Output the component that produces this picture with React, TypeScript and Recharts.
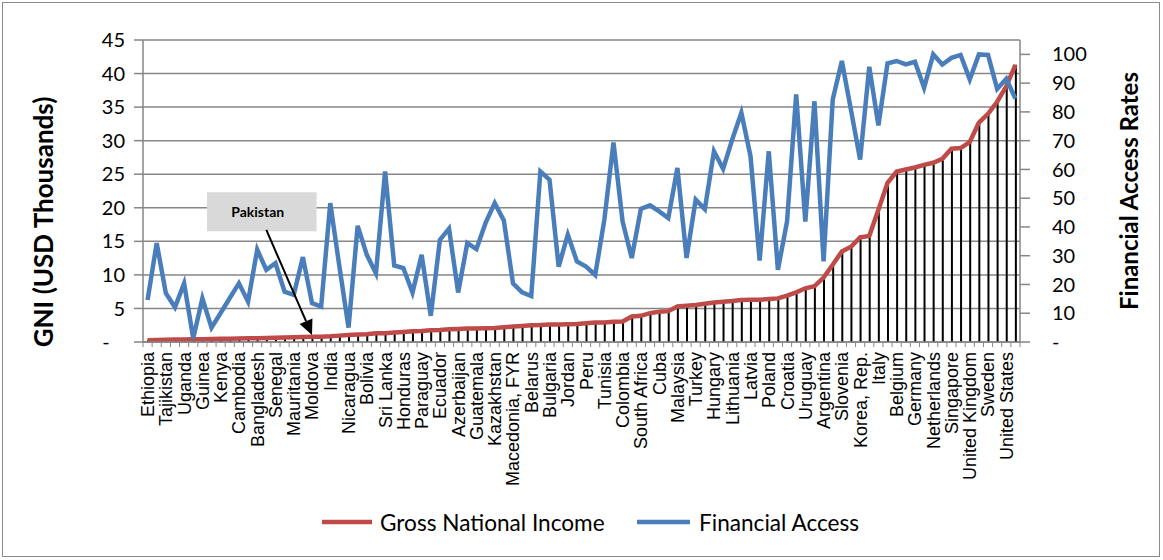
import React from 'react';
import {
  ComposedChart,
  Line,
  Bar,
  XAxis,
  YAxis,
  CartesianGrid,
  Legend,
  ReferenceArea,
  ReferenceLine,
} from 'recharts';

const countries = [
  'Ethiopia', 'Malawi', 'Tajikistan', 'Madagascar', 'Uganda', 'Nepal', 'Guinea', 'Rwanda', 'Kenya', 'Tanzania',
  'Cambodia', 'Burkina Faso', 'Bangladesh', 'Benin', 'Senegal', 'Haiti', 'Mauritania', 'Ghana', 'Moldova', 'Pakistan',
  'India', 'Mongolia', 'Nicaragua', 'Vietnam', 'Bolivia', 'Philippines', 'Sri Lanka', 'Indonesia', 'Honduras', 'Egypt',
  'Paraguay', 'Morocco', 'Ecuador', 'Armenia', 'Azerbaijan', 'Georgia', 'Guatemala', 'Ukraine', 'Kazakhstan', 'Albania',
  'Macedonia, FYR', 'El Salvador', 'Belarus', 'Thailand', 'Bulgaria', 'Namibia', 'Jordan', 'Dominican Republic', 'Peru', 'Algeria',
  'Tunisia', 'Iran', 'Colombia', 'Brazil', 'South Africa', 'Romania', 'Cuba', 'Serbia', 'Malaysia', 'Russian Federation',
  'Turkey', 'Chile', 'Hungary', 'Mexico', 'Lithuania', 'Estonia', 'Latvia', 'Venezuela', 'Poland', 'Slovak Republic',
  'Croatia', 'Botswana', 'Uruguay', 'Lebanon', 'Argentina', 'Czech Republic', 'Slovenia', 'Portugal', 'Korea, Rep.', 'Greece',
  'Italy', 'Spain', 'Belgium', 'France', 'Germany', 'Japan', 'Netherlands', 'Australia', 'Singapore', 'Austria',
  'United Kingdom', 'Canada', 'Sweden', 'Ireland', 'United States', 'Norway',
];

// GNI, USD thousands
const gni = [
  0.25, 0.3, 0.33, 0.36, 0.38, 0.4, 0.42, 0.45, 0.47, 0.5,
  0.52, 0.55, 0.57, 0.6, 0.63, 0.66, 0.7, 0.73, 0.77, 0.8,
  0.85, 0.95, 1.05, 1.1, 1.15, 1.3, 1.32, 1.4, 1.5, 1.6,
  1.65, 1.75, 1.8, 1.9, 1.95, 2.0, 2.02, 2.05, 2.1, 2.2,
  2.3, 2.4, 2.5, 2.52, 2.6, 2.62, 2.65, 2.7, 2.8, 2.9,
  2.92, 3.0, 3.05, 3.8, 3.9, 4.3, 4.5, 4.6, 5.3, 5.4,
  5.5, 5.7, 5.9, 6.0, 6.1, 6.25, 6.3, 6.3, 6.4, 6.5,
  6.9, 7.4, 8.0, 8.3, 9.6, 11.5, 13.5, 14.2, 15.6, 15.8,
  19.7, 23.7, 25.4, 25.7, 26.0, 26.4, 26.7, 27.3, 28.8, 28.9,
  29.8, 32.7, 34.0, 35.8, 38.1, 41.3,
];

// Financial access rates, %
const access = [
  14.6, 34.4, 17.0, 12.1, 20.4, 1.3, 15.2, 5.0, 10.1, 15.3,
  20.4, 14.0, 32.1, 25.1, 27.4, 17.5, 16.4, 29.5, 13.5, 12.3,
  48.3, 26.2, 5.0, 40.4, 30.3, 23.9, 59.3, 26.6, 25.7, 17.2,
  30.3, 9.1, 35.5, 39.4, 17.2, 34.4, 32.3, 41.4, 48.3, 42.3,
  20.4, 17.3, 16.0, 59.3, 56.4, 26.2, 37.3, 28.0, 26.2, 23.3,
  42.5, 69.4, 41.9, 29.2, 46.3, 47.5, 45.4, 43.1, 60.5, 29.2,
  49.5, 46.2, 66.3, 60.2, 70.4, 79.7, 64.6, 28.3, 66.3, 25.1,
  41.9, 86.1, 41.9, 83.7, 28.0, 84.3, 97.7, 80.6, 63.4, 95.7,
  75.3, 96.9, 97.7, 96.5, 97.4, 88.4, 100, 96.5, 98.8, 99.8,
  91.3, 100, 99.8, 88.0, 91.5, 84.6,
];

const gniTicks = [0, 5, 10, 15, 20, 25, 30, 35, 40, 45];
const accessTicks = [0, 10, 20, 30, 40, 50, 60, 70, 80, 90, 100];

const data = countries.map((country, i) => ({ country, gni: gni[i], access: access[i] }));

const W = 1163;
const H = 560;
const YW = 143;
const PLOT_W = W - 2 * YW;
const BAND = PLOT_W / countries.length;
const GREY = '#868686';
const RED = '#BE4B48';
const BLUE = '#4A7EBB';
const NUM_FONT = 'Lato, "Open Sans", sans-serif';

function CountryTick(props: any) {
  const { x, y, payload } = props;
  const i = payload && typeof payload.index === 'number' ? payload.index : props.index;
  const ty = y + 10;
  return (
    <g>
      {i === 0 && <line x1={x - BAND / 2} y1={y} x2={x - BAND / 2} y2={y + 5} stroke={GREY} strokeWidth={1} />}
      <line x1={x + BAND / 2} y1={y} x2={x + BAND / 2} y2={y + 5} stroke={GREY} strokeWidth={1} />
      {i % 2 === 0 && (
        <text
          x={x}
          y={ty}
          dy="0.36em"
          transform={`rotate(-90, ${x}, ${ty})`}
          textAnchor="end"
          fontFamily='"Liberation Sans", Arial, sans-serif'
          fontSize={18}
          fill="#000"
        >
          {payload.value}
        </text>
      )}
    </g>
  );
}

const leftTitle = (p: any) => {
  const vb = p.viewBox || { x: 0, y: 40, width: YW, height: 302 };
  const cx = vb.x + 43;
  const cy = vb.y + vb.height / 2 + 31;
  return (
    <text x={cx} y={cy} transform={`rotate(-90, ${cx}, ${cy})`} textAnchor="middle" dominantBaseline="central"
      fontFamily={NUM_FONT} fontWeight={700} fontSize={26} fill="#000">
      GNI (USD Thousands)
    </text>
  );
};

const rightTitle = (p: any) => {
  const vb = p.viewBox || { x: W - YW, y: 40, width: YW, height: 302 };
  const cx = vb.x + 108;
  const cy = vb.y + vb.height / 2;
  return (
    <text x={cx} y={cy} transform={`rotate(-90, ${cx}, ${cy})`} textAnchor="middle" dominantBaseline="central"
      fontFamily={NUM_FONT} fontWeight={700} fontSize={24} fill="#000">
      Financial Access Rates
    </text>
  );
};

const arrowShape = (p: any) => {
  const { x1, y1, x2, y2 } = p;
  if ([x1, y1, x2, y2].some((v) => typeof v !== 'number' || isNaN(v))) return <g />;
  const dx = x2 - x1;
  const dy = y2 - y1;
  const len = Math.sqrt(dx * dx + dy * dy);
  const ux = dx / len;
  const uy = dy / len;
  const headL = 15;
  const headW = 7;
  const bx = x2 - ux * headL;
  const by = y2 - uy * headL;
  const pts = `${x2},${y2} ${bx - uy * headW},${by + ux * headW} ${bx + uy * headW},${by - ux * headW}`;
  return (
    <g>
      <line x1={x1} y1={y1} x2={bx} y2={by} stroke="#000" strokeWidth={2} />
      <polygon points={pts} fill="#000" />
    </g>
  );
};

const renderLegend = () => (
  <div style={{ position: 'relative', height: 40, width: W }}>
    <div style={{ position: 'absolute', left: 322, top: 0, height: 40, display: 'flex', alignItems: 'center' }}>
      <svg width={50} height={8}>
        <line x1={0} y1={4} x2={50} y2={4} stroke={RED} strokeWidth={4.5} />
      </svg>
      <span style={{ marginLeft: 8, fontFamily: NUM_FONT, fontSize: 22.6, color: '#000', whiteSpace: 'nowrap' }}>
        Gross National Income
      </span>
    </div>
    <div style={{ position: 'absolute', left: 637, top: 0, height: 40, display: 'flex', alignItems: 'center' }}>
      <svg width={53} height={8}>
        <line x1={0} y1={4} x2={53} y2={4} stroke={BLUE} strokeWidth={4.5} />
      </svg>
      <span style={{ marginLeft: 9, fontFamily: NUM_FONT, fontSize: 22.6, color: '#000', whiteSpace: 'nowrap' }}>
        Financial Access
      </span>
    </div>
  </div>
);

export default function App() {
  return (
    <div style={{ position: 'absolute', left: 0, top: 0, width: W, height: H, background: '#fff' }}>
      <div
        style={{
          position: 'absolute',
          left: 2,
          top: 2,
          width: W - 5,
          height: H - 5,
          border: '1px solid #8a8a8a',
          boxSizing: 'border-box',
        }}
      />
      <ComposedChart
        width={W}
        height={H}
        data={data}
        margin={{ top: 40, right: 0, bottom: 18, left: 0 }}
        barCategoryGap={0}
      >
        <CartesianGrid yAxisId="left" vertical={false} stroke={GREY} strokeWidth={1.5} />
        <XAxis
          dataKey="country"
          interval={0}
          height={160}
          tickSize={0}
          tickMargin={0}
          tickLine={false}
          axisLine={{ stroke: GREY, strokeWidth: 1.5 }}
          tick={<CountryTick />}
        />
        <YAxis
          yAxisId="left"
          orientation="left"
          width={YW}
          domain={[0, 45]}
          ticks={gniTicks}
          interval={0}
          tickSize={9}
          tickMargin={9}
          axisLine={{ stroke: GREY, strokeWidth: 1.5 }}
          tickLine={{ stroke: GREY, strokeWidth: 1.5 }}
          tick={{ fill: '#000', fontSize: 20, fontFamily: NUM_FONT }}
          tickFormatter={(v: number) => (v === 0 ? '-\u00a0\u00a0\u00a0' : String(v))}
          label={leftTitle}
        />
        <YAxis
          yAxisId="right"
          orientation="right"
          width={YW}
          domain={[0, 105]}
          ticks={accessTicks}
          interval={0}
          tickSize={10}
          tickMargin={22}
          axisLine={{ stroke: GREY, strokeWidth: 1.5 }}
          tickLine={{ stroke: GREY, strokeWidth: 1.5 }}
          tick={{ fill: '#000', fontSize: 20, fontFamily: NUM_FONT }}
          tickFormatter={(v: number) => (v === 0 ? '-' : String(v))}
          label={rightTitle}
        />
        <Bar yAxisId="left" dataKey="gni" fill="#000" barSize={2} isAnimationActive={false} legendType="none" />
        <Line
          yAxisId="left"
          type="linear"
          dataKey="gni"
          name="Gross National Income"
          stroke={RED}
          strokeWidth={4.5}
          dot={false}
          activeDot={false}
          isAnimationActive={false}
        />
        <Line
          yAxisId="right"
          type="linear"
          dataKey="access"
          name="Financial Access"
          stroke={BLUE}
          strokeWidth={4.5}
          dot={false}
          activeDot={false}
          isAnimationActive={false}
        />
        <ReferenceArea
          yAxisId="left"
          x1="Rwanda"
          x2="Moldova"
          y1={16.5}
          y2={22.3}
          fill="#D9D9D9"
          fillOpacity={1}
          stroke="none"
          label={{ value: 'Pakistan', position: 'center', fill: '#000', fontSize: 14, fontWeight: 700, fontFamily: NUM_FONT, dx: -4 }}
        />
        <ReferenceLine
          yAxisId="left"
          segment={[{ x: 'Benin', y: 16.7 }, { x: 'Moldova', y: 1.05 }]}
          shape={arrowShape}
        />
        <Legend verticalAlign="bottom" content={renderLegend} wrapperStyle={{ height: 40 }} />
      </ComposedChart>
    </div>
  );
}
